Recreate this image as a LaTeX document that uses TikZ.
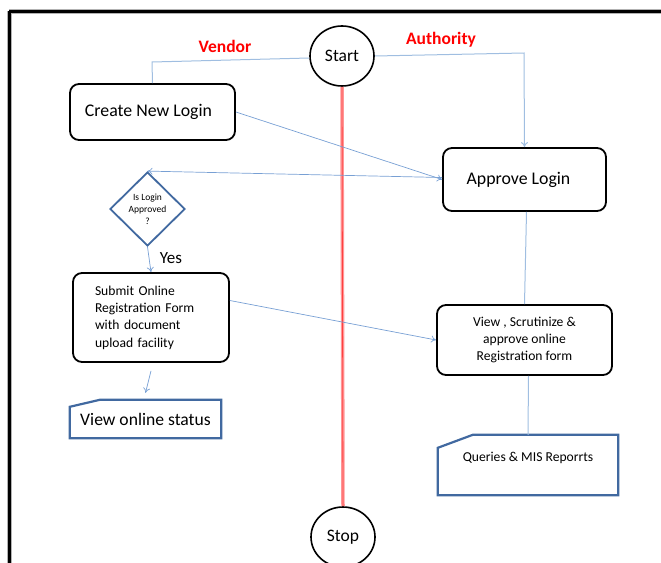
\documentclass[tikz,border=0pt]{standalone}
\usepackage{fontspec}
\setmainfont{Carlito}
\usetikzlibrary{shapes.geometric,arrows.meta}
\definecolor{flowblue}{RGB}{120,160,212}
\definecolor{paleblue}{RGB}{160,190,225}
\definecolor{shapeblue}{RGB}{65,105,160}
\definecolor{swimred}{RGB}{255,150,150}
\tikzset{
  procbox/.style={draw=black, line width=1.8pt, rounded corners=9pt, align=center},
  termnode/.style={draw=black, line width=1.6pt, ellipse, minimum width=64pt, minimum height=60pt, inner sep=0pt, font=\fontsize{17.5}{20}\selectfont},
  decision/.style={draw=shapeblue, line width=1.8pt, diamond, shape aspect=1, minimum width=75pt, minimum height=74pt, inner sep=0pt, align=center, font=\fontsize{9.5}{12}\selectfont},
  cardbox/.style={inner sep=0pt},
  cardline/.style={draw=shapeblue, line width=2.2pt},
  flow/.style={draw=flowblue, line width=0.7pt, -{To[length=5pt,width=7pt]}},
  flowplain/.style={draw=paleblue, line width=1pt},
  lanelabel/.style={text=red, font=\bfseries\fontsize{17.5}{20}\selectfont}
}
\begin{document}
\begin{tikzpicture}[x=1pt,y=-1pt]
\useasboundingbox (0,0) rectangle (661,562);
% page frame
\draw[gray!60, line width=5pt] (9,11) -- (680,11);
\draw[gray!60, line width=5pt] (9,11) -- (9,580);
\draw[black, line width=3pt] (9,11) -- (680,11);
\draw[black, line width=3pt] (9,11) -- (9,580);

% terminals
\node[termnode] (start) at (342,56) {Start};
\node[termnode] (stop) at (343,537) {Stop};

% swim-lane divider
\draw[swimred, line width=3.5pt] (start.south) -- (stop.north);
\draw[red!75, line width=0.8pt] (start.south) -- (stop.north);

% lane titles
\node[lanelabel] (vendor) at (225,46) {Vendor};
\node[lanelabel] (authority) at (441,40) {Authority};

% process boxes
\node[procbox, minimum width=165pt, minimum height=56pt, font=\fontsize{17.8}{20}\selectfont] (create) at (152.5,112) {\hspace*{-8pt}Create New Login};
\node[procbox, minimum width=163pt, minimum height=63pt, font=\fontsize{17.8}{20}\selectfont] (approve) at (524.5,179.5) {Approve Login\hspace*{12pt}};
\node[procbox, text width=112pt, inner xsep=22pt, minimum height=89pt, align=left, font=\fontsize{13.6}{17.3}\selectfont] (submit) at (151,317.5) {Submit Online\\Registration Form\\with document\\upload facility};
\node[procbox, minimum width=175pt, minimum height=70pt, font=\fontsize{13.6}{17}\selectfont] (scrut) at (524.5,340) {View , Scrutinize \&\\approve online\\Registration form};

% decision
\node[decision] (check) at (147.5,209) {Is Login\\Approved\\?};
\node[font=\fontsize{17}{19}\selectfont] (yes) at (171,258) {Yes};

% cut-corner output boxes
\node[cardbox, minimum width=151pt, minimum height=38pt, font=\fontsize{17.6}{20}\selectfont] (status) at (145.5,419) {View online status};
\draw[cardline] (status.south west) -- (status.south east) -- (status.north east)
  -- ([xshift=30pt]status.north west) -- ([yshift=-7pt]status.north west) -- cycle;

\node[cardbox, minimum width=180pt, minimum height=60pt] (queries) at (528,465) {};
\node[font=\fontsize{13.6}{16}\selectfont] (queriestext) at ([yshift=7pt]queries.center) {Queries \& MIS Reporrts};
\draw[cardline] (queries.south west) -- (queries.south east) -- (queries.north east)
  -- ([xshift=35pt]queries.north west) -- ([yshift=-13pt]queries.north west) -- cycle;

% connectors
\draw[flowplain] ([yshift=-2pt]start.west) -- (152,62) -- (create.north);
\draw[flowplain, -{To[length=5pt,width=7pt]}] (start.east) -- (524,53) -- (approve.north);
\draw[flow] (create.east) -- (approve.west);
\draw[flow] ([yshift=2pt]approve.west) -- (check.north);
\draw[flow] (check.south) -- (submit.north);
\draw[flow] ([yshift=17pt]submit.east) -- (scrut.west);
\draw[flow] ([yshift=-8pt]submit.south) -- ([yshift=7pt]status.north);
\draw[flowplain] ([xshift=2pt]approve.south) -- (scrut.north);
\draw[flowplain] ([xshift=4pt]scrut.south) -- (queries.north);
\end{tikzpicture}
\end{document}
